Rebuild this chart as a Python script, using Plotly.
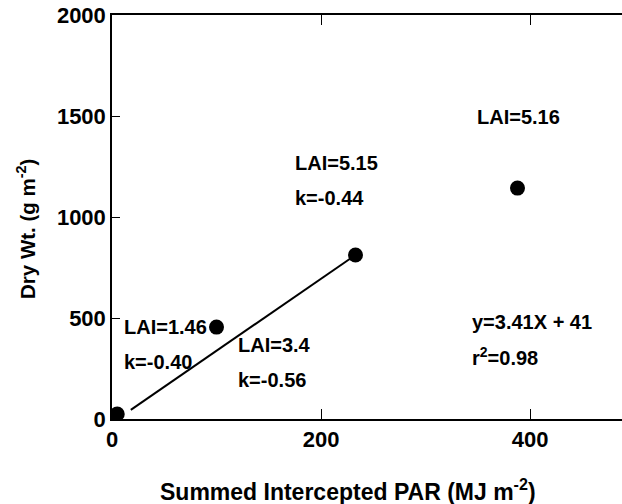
import plotly.graph_objects as go

# Data
par = [5, 100, 233, 388]          # Summed intercepted PAR (MJ m-2)
dry_wt = [25, 455, 812, 1143]     # Dry Wt. (g m-2)

fit_x = [18, 233]
fit_y = [45, 812]

x_ticks = [0, 200, 400]
y_ticks = [0, 500, 1000, 1500, 2000]

labels_text = ["LAI=5.16", "LAI=5.15", "k=-0.44", "LAI=1.46", "k=-0.40",
               "LAI=3.4", "k=-0.56", "y=3.41X + 41", "r<sup>2</sup>=0.98"]
labels_x = [389, 173, 173, 9.6, 9.6, 118.7, 118.7, 342.6, 342.6]
labels_y = [1495, 1267, 1094, 455, 282, 366, 193, 480, 307]
labels_anchor = ["center", "left", "left", "left", "left", "left", "left", "left", "left"]

FONT = "Liberation Sans, Arial, sans-serif"

fig = go.Figure()
fig.add_trace(go.Scatter(x=fit_x, y=fit_y, mode="lines",
                         line=dict(color="black", width=2), showlegend=False))
fig.add_trace(go.Scatter(x=par, y=dry_wt, mode="markers",
                         marker=dict(color="black", size=15), showlegend=False))

for t, x, y, a in zip(labels_text, labels_x, labels_y, labels_anchor):
    fig.add_annotation(x=x, y=y, text="<b>" + t + "</b>", showarrow=False,
                       xanchor=a, yanchor="middle",
                       font=dict(family=FONT, size=20, color="black"))

# Axis titles (placed as paper annotations to match the reference offsets)
fig.add_annotation(xref="paper", yref="paper", x=(348 - 112) / 510, y=-(490 - 419) / 404,
                   text="<b>Summed Intercepted PAR (MJ m<sup>-2</sup>)</b>",
                   showarrow=False, xanchor="center", yanchor="middle",
                   font=dict(family=FONT, size=23, color="black"))
fig.add_annotation(xref="paper", yref="paper", x=-(112 - 26) / 510, y=(419 - 229) / 404,
                   text="<b>Dry Wt. (g m<sup>-2</sup>)</b>", textangle=-90,
                   showarrow=False, xanchor="center", yanchor="middle",
                   font=dict(family=FONT, size=20.5, color="black"))

fig.update_layout(
    width=622, height=504,
    margin=dict(l=112, r=0, t=15, b=85),
    plot_bgcolor="white", paper_bgcolor="white",
    font=dict(family=FONT, size=20, color="black"),
    xaxis=dict(range=[0, 488], tickvals=x_ticks,
               ticktext=["<b>%d</b>" % v for v in x_ticks],
               showline=True, linecolor="black", linewidth=1.5,
               mirror="ticks", ticks="inside", ticklen=10, tickwidth=1.2,
               tickcolor="black", showgrid=False, zeroline=False,
               tickfont=dict(size=22)),
    yaxis=dict(range=[0, 2000], tickvals=y_ticks,
               ticktext=["<b>%d</b>" % v for v in y_ticks],
               showline=True, linecolor="black", linewidth=1.5,
               ticks="inside", ticklen=8, tickwidth=1.2, tickcolor="black",
               showgrid=False, zeroline=False, tickfont=dict(size=22)),
)

fig.write_html("out.html")
